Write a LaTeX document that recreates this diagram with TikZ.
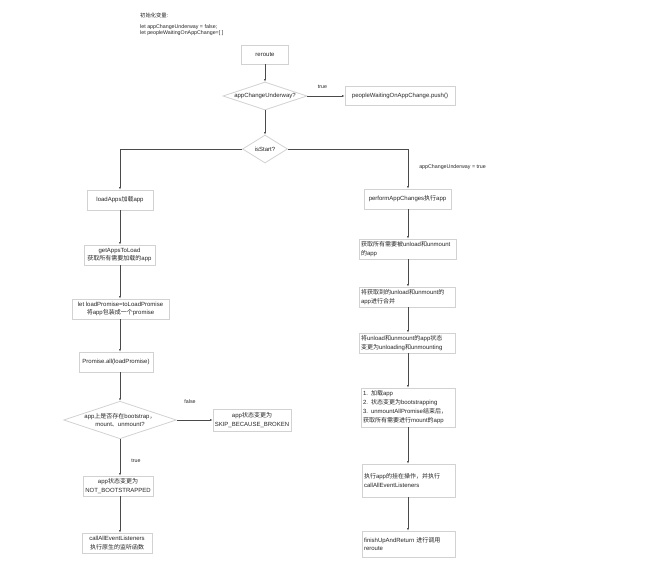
\documentclass[tikz,border=0pt]{standalone}
\usepackage{fontspec}
\setmainfont{Liberation Sans}
\newfontfamily\cjkfont{Noto Sans CJK SC}
\newcommand{\zh}[1]{{\cjkfont #1}}
\usetikzlibrary{shapes.geometric,arrows.meta}
\definecolor{boxline}{HTML}{D2D2D2}
\definecolor{conn}{HTML}{4A4A4A}
\definecolor{txt}{HTML}{262626}
\begin{document}
\begin{tikzpicture}[x=1pt,y=-1pt,
  every node/.style={text=txt, font=\fontsize{6}{8.5}\selectfont},
  fbox/.style={draw=boxline, line width=0.8pt, fill=white, inner sep=1pt, align=center},
  lbox/.style={draw=boxline, line width=0.8pt, fill=white, inner xsep=2pt, inner ysep=1pt, align=left},
  dia/.style={draw=boxline, line width=0.8pt, diamond, aspect=3, inner sep=0pt, align=center},
  arr/.style={draw=conn, line width=0.5pt, -{Latex[length=2.5pt,width=2pt]}},
  lbl/.style={font=\fontsize{5.3}{6}\selectfont, inner sep=0pt}
]
\useasboundingbox[fill=white] (0,0) rectangle (650,573);

% initial variables
\node[lbl, anchor=west] (inittitle) at (140,15) {\zh{初始化变量:}};
\node[lbl, anchor=west, align=left, font=\fontsize{5.3}{6}\selectfont] (vars) at (140,30.2) {let appChangeUnderway = false;\\let peopleWaitingOnAppChange=[ ]};

% top flow
\node[fbox, minimum width=47pt, minimum height=19pt] (reroute) at (265,54.5) {reroute};
\node[dia, minimum width=84pt, minimum height=28pt] (d1) at (265,96) {appChangeUnderway?};
\node[fbox, minimum width=110pt, minimum height=19pt] (push) at (400,96) {peopleWaitingOnAppChange.push()};
\node[dia, minimum width=45pt, minimum height=28pt] (isstart) at (265,149) {isStart?};

% left column
\coordinate (colL) at (120,0);
\node[fbox, minimum width=66pt, minimum height=20pt] (loadapps) at (120,200) {loadApps\zh{加载}app};
\node[fbox, minimum width=71pt, minimum height=20pt] (getapps) at (119.5,255) {getAppsToLoad\\\zh{获取所有需要加载的}app};
\node[fbox, minimum width=97pt, minimum height=20pt] (loadpromise) at (120.5,309) {let loadPromise=toLoadPromise\\\zh{将}app\zh{包装成一个}promise};
\node[fbox, minimum width=74pt, minimum height=20pt] (promiseall) at (116,362) {Promise.all(loadPromise)};
\node[dia, minimum width=106pt, minimum height=34pt] (d3) at (120,420) {app\zh{上是否存在}bootstrap\zh{，}\\mount\zh{、}unmount?};
\node[fbox, minimum width=78pt, minimum height=22pt] (skip) at (252,420) {app\zh{状态变更为}\\SKIP\_BECAUSE\_BROKEN};
\node[fbox, minimum width=70pt, minimum height=20pt] (notboot) at (118,486) {app\zh{状态变更为}\\NOT\_BOOTSTRAPPED};
\node[fbox, minimum width=70pt, minimum height=20pt] (callall) at (117,543) {callAllEventListeners\\\zh{执行原生的监听函数}};

% right column
\coordinate (colR) at (408,0);
\node[fbox, minimum width=87pt, minimum height=20pt] (perform) at (407.5,199) {performAppChanges\zh{执行}app};
\node[lbox, text width=93pt, minimum height=20pt] (getunload) at (407.5,249) {\zh{获取所有需要被}unload\zh{和}unmount\\\zh{的}app};
\node[lbox, text width=92pt, minimum height=20pt] (merge) at (407,297) {\zh{将获取到的}unload\zh{和}unmount\zh{的}\\app\zh{进行合并}};
\node[lbox, text width=92pt, minimum height=20pt] (status) at (407,343) {\zh{将}unload\zh{和}unmount\zh{的}app\zh{状态}\\\zh{变更为}unloading\zh{和}unmounting};
\node[lbox, text width=90pt, minimum height=39pt, font=\fontsize{6}{9}\selectfont] (list) at (408,407.5) {1. \zh{加载}app\\2. \zh{状态变更为}bootstrapping\\3. unmountAllPromise\zh{结束后，}\\\zh{获取所有需要进行}mount\zh{的}app};
\node[lbox, text width=89pt, minimum height=33pt] (mount) at (408.5,480.5) {\zh{执行}app\zh{的挂在操作，并执行}\\callAllEventListeners};
\node[lbox, text width=89pt, minimum height=26pt] (finish) at (408.5,544) {finishUpAndReturn \zh{进行调用}\\reroute};

% labels
\node[lbl] (ltrue1) at (322.5,87.3) {true};
\node[lbl] (lunder) at (452.5,167) {appChangeUnderway = true};
\node[lbl] (lfalse) at (190,402) {false};
\node[lbl] (ltrue2) at (136,460.7) {true};

% connectors
\draw[arr] (reroute.south) -- (d1.north);
\draw[arr] (d1.east) -- (push.west);
\draw[arr] (d1.south) -- (isstart.north);
\draw[arr] (isstart.west) -| (loadapps.north -| colL);
\draw[arr] (isstart.east) -| (perform.north -| colR);

\draw[arr] (loadapps.south -| colL) -- (getapps.north -| colL);
\draw[arr] (getapps.south -| colL) -- (loadpromise.north -| colL);
\draw[arr] (loadpromise.south -| colL) -- (promiseall.north -| colL);
\draw[arr] (promiseall.south -| colL) -- (d3.north);
\draw[arr] (d3.east) -- (skip.west);
\draw[arr] (d3.south) -- (notboot.north -| colL);
\draw[arr] (notboot.south -| colL) -- (callall.north -| colL);

\draw[arr] (perform.south -| colR) -- (getunload.north -| colR);
\draw[arr] (getunload.south -| colR) -- (merge.north -| colR);
\draw[arr] (merge.south -| colR) -- (status.north -| colR);
\draw[arr] (status.south -| colR) -- (list.north -| colR);
\draw[arr] (list.south -| colR) -- (mount.north -| colR);
\draw[arr] (mount.south -| colR) -- (finish.north -| colR);
\end{tikzpicture}
\end{document}
